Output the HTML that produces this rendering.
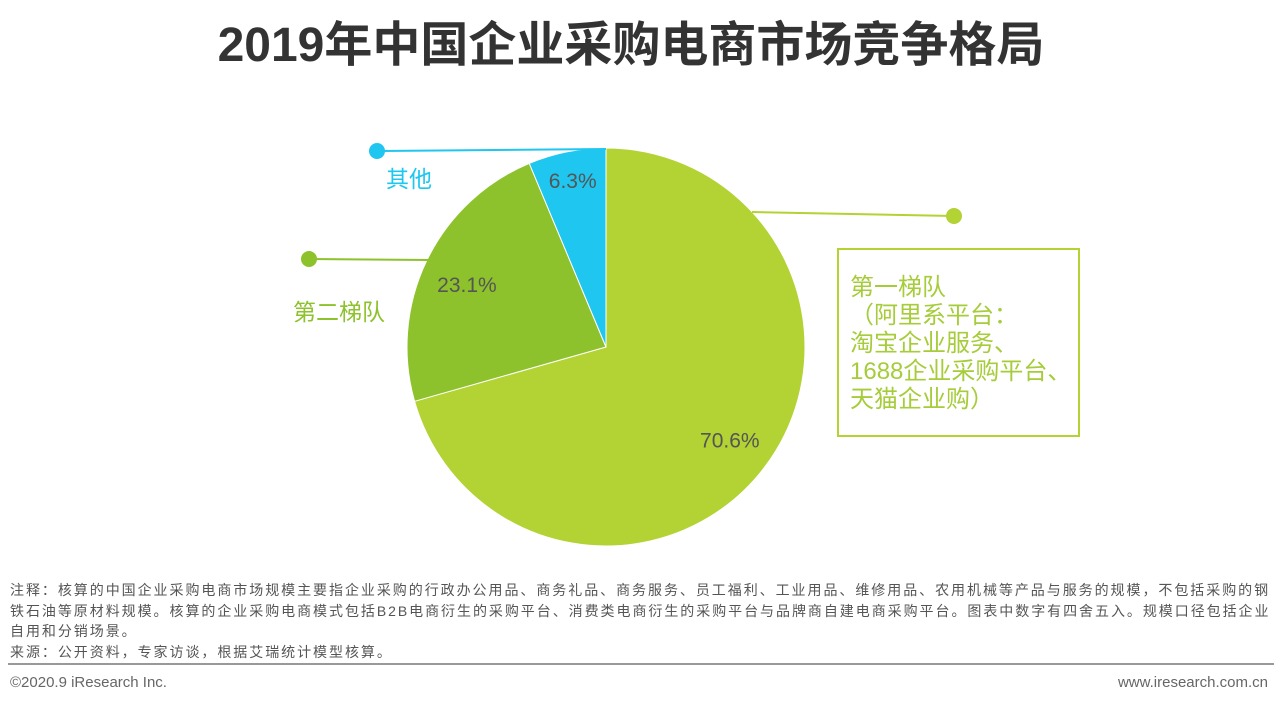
<!DOCTYPE html>
<html><head><meta charset="utf-8">
<style>
body{margin:0;width:1280px;height:707px;background:#fff;overflow:hidden;position:relative;font-family:"Liberation Sans","Noto Sans CJK SC",sans-serif}
.t{position:absolute;white-space:nowrap}
</style></head><body>
<div class="t" style="left:0;width:1262px;text-align:center;top:17px;font-size:48px;font-weight:bold;color:#333;line-height:58px">2019年中国企业采购电商市场竞争格局</div>
<svg id="pie" width="1280" height="707" style="position:absolute;left:0;top:0"></svg>
<div class="t" style="left:386px;top:160px;font-size:23px;color:#1fc6f0">其他</div>
<div class="t" style="left:293px;top:293px;font-size:23px;color:#8dc22c">第二梯队</div>
<div style="position:absolute;left:837px;top:248px;width:239px;height:185px;border:2px solid #b3d233"></div>
<div class="t" style="left:850px;top:274px;font-size:24px;line-height:28px;color:#a6cc3a">第一梯队<br>（阿里系平台：<br>淘宝企业服务、<br>1688企业采购平台、<br>天猫企业购）</div>
<div class="t" style="left:10px;top:580px;font-size:14px;line-height:20.5px;letter-spacing:1.95px;color:#555">注释：核算的中国企业采购电商市场规模主要指企业采购的行政办公用品、商务礼品、商务服务、员工福利、工业用品、维修用品、农用机械等产品与服务的规模，不包括采购的钢<br>铁石油等原材料规模。核算的企业采购电商模式包括B2B电商衍生的采购平台、消费类电商衍生的采购平台与品牌商自建电商采购平台。图表中数字有四舍五入。规模口径包括企业<br>自用和分销场景。<br>来源：公开资料，专家访谈，根据艾瑞统计模型核算。</div>
<div style="position:absolute;left:8px;top:663px;width:1266px;height:2px;background:#999"></div>
<div class="t" style="left:10px;top:674px;font-size:15px;color:#666">©2020.9 iResearch Inc.</div>
<div class="t" style="right:12px;top:674px;font-size:15px;color:#666">www.iresearch.com.cn</div>
<script>
const categories=["第一梯队","第二梯队","其他"];
const values=[70.6,23.1,6.3];
const valueLabels=["70.6%","23.1%","6.3%"];
const colors=["#b3d233","#8dc22c","#1fc6f0"];
const svg=document.getElementById('pie');
const NS="http://www.w3.org/2000/svg";
const cx=606,cy=347,r=199;
const total=values.reduce((a,b)=>a+b,0);
function pt(a,rr){return [cx+rr*Math.sin(a),cy-rr*Math.cos(a)];}
let a0=0;
const labelR=[0.78,0.72,0.85];
values.forEach((v,i)=>{
  const a1=a0+v/total*2*Math.PI;
  const p0=pt(a0,r),p1=pt(a1,r);
  const large=(a1-a0)>Math.PI?1:0;
  const path=document.createElementNS(NS,'path');
  path.setAttribute('d',`M${cx},${cy}L${p0[0]},${p0[1]}A${r},${r} 0 ${large} 1 ${p1[0]},${p1[1]}Z`);
  path.setAttribute('fill',colors[i]);
  path.setAttribute('stroke','#fff');
  path.setAttribute('stroke-width','1');
  
  
  svg.appendChild(path);
  const mid=(a0+a1)/2;
  const lp=pt(mid,r*labelR[i]);
  const t=document.createElementNS(NS,'text');
  t.setAttribute('x',lp[0]-(i==1?10:0));t.setAttribute('y',lp[1]+7);
  t.setAttribute('text-anchor','middle');
  t.setAttribute('font-size','21');
  t.setAttribute('fill','#555');
  t.setAttribute('font-family','Liberation Sans, sans-serif');
  t.textContent=valueLabels[i];
  
  
  svg.appendChild(t);
  a0=a1;
});
const leaders=[[752,212,954,216,"#b3d233"],[430,260,309,259,"#8dc22c"],[606,149,377,151,"#1fc6f0"]];
leaders.forEach((l,i)=>{
  const ln=document.createElementNS(NS,'line');
  ln.setAttribute('x1',l[0]);ln.setAttribute('y1',l[1]);ln.setAttribute('x2',l[2]);ln.setAttribute('y2',l[3]);
  ln.setAttribute('stroke',l[4]);ln.setAttribute('stroke-width','2');
  
  
  svg.appendChild(ln);
  const c=document.createElementNS(NS,'circle');
  c.setAttribute('cx',l[2]);c.setAttribute('cy',l[3]);c.setAttribute('r','8');c.setAttribute('fill',l[4]);
  
  
  svg.appendChild(c);
});
</script>
</body></html>
